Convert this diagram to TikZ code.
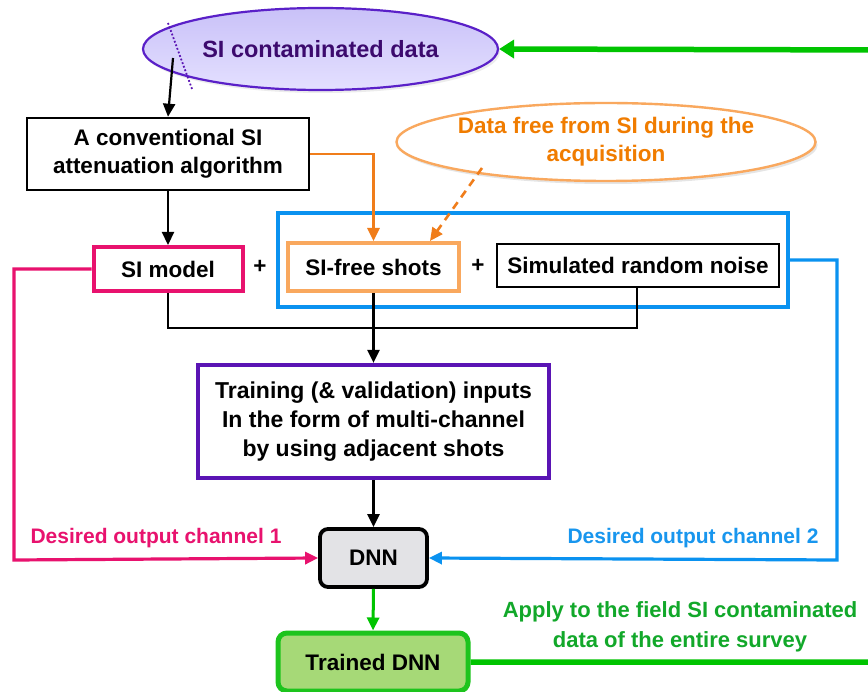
\documentclass[tikz,border=0pt]{standalone}
\usepackage{fontspec}
\setmainfont{Liberation Sans}
\usetikzlibrary{arrows.meta,shapes.geometric,shadows,calc}
\definecolor{pinkc}{HTML}{E8126E}
\definecolor{orangeline}{HTML}{F07D1A}
\definecolor{orangebox}{HTML}{F9A85E}
\definecolor{orangetext}{HTML}{F07C00}
\definecolor{bluec}{HTML}{0A92F0}
\definecolor{bluetext}{HTML}{1896EE}
\definecolor{greenline}{HTML}{00C400}
\definecolor{greentext}{HTML}{12A82A}
\definecolor{purplec}{HTML}{5A14B4}
\definecolor{ellborder}{HTML}{5A20C8}
\definecolor{elltext}{HTML}{3C0A6E}
\definecolor{ellfilltop}{HTML}{C9C1F8}
\definecolor{ellfillbot}{HTML}{E4E0FF}
\definecolor{trainedfill}{HTML}{A6D977}
\definecolor{trainedborder}{HTML}{1DC41D}
\definecolor{dnnfill}{HTML}{E3E3E6}
\begin{document}
\begin{tikzpicture}[x=1pt,y=-1pt,
  txt/.style={font=\fontsize{22.5}{28}\selectfont\bfseries, align=center},
  lbl/.style={font=\fontsize{21}{27}\selectfont\bfseries, align=center, inner sep=0pt},
  box/.style={draw, line width=2.6pt, inner sep=0pt, txt, rectangle},
  tip/.style={-{Triangle[length=13pt,width=12pt]}}]
\clip (0,0) rectangle (868,692);
\fill[white] (0,0) rectangle (868,692);

% top ellipse
\node[ellipse, draw=ellborder, line width=2.2pt, top color=ellfilltop, bottom color=ellfillbot,
      minimum width=355pt, minimum height=82pt, inner sep=0pt, txt, text=elltext,
      font=\fontsize{23.5}{28}\selectfont\bfseries,
      drop shadow={opacity=0.15, shadow xshift=2pt, shadow yshift=-3pt}]
      (ell1) at (320.5,49) {SI contaminated data};
\coordinate (d1) at (168,23);
\coordinate (d2) at (192,89);
\draw[purplec, line width=1.8pt, dotted] (d1) -- (d2);
\coordinate (e1) at (173,58);

% conventional box
\node[box, minimum width=282pt, minimum height=72pt] (conv) at (168,154)
  {A conventional SI\\attenuation algorithm};

% data free ellipse
\node[ellipse, draw=orangebox, line width=2.4pt, fill=white, minimum width=355pt, minimum height=78pt,
      inner sep=0pt, txt, text=orangetext,
      drop shadow={opacity=0.2, shadow xshift=2pt, shadow yshift=-3pt}]
      (dfree) at (606,142) {Data free from SI during the\\acquisition};
\coordinate (df1) at (482,168);

% blue enclosing box
\node[draw=bluec, line width=4.2pt, minimum width=510pt, minimum height=94pt, inner sep=0pt]
  (blue) at (533,260) {};

% row boxes
\node[box, draw=pinkc, line width=4pt, minimum width=149pt, minimum height=44pt] (sim) at (168,269) {SI model};
\node[box, draw=orangebox, line width=4pt, minimum width=171pt, minimum height=48pt] (sifree) at (373.5,267) {SI-free shots};
\node[box, minimum width=282pt, minimum height=43pt] (noise) at (638,265.5) {Simulated random noise};
\node[txt, inner sep=0pt] (plus1) at (260,267) {+};
\node[txt, inner sep=0pt] (plus2) at (478,266) {+};

% training box
\node[box, draw=purplec, line width=4.2pt, minimum width=351pt, minimum height=113pt,
      font=\fontsize{23}{29}\selectfont\bfseries]
  (train) at (373.5,421.5) {Training (\& validation) inputs\\In the form of multi-channel\\by using adjacent shots};

% DNN
\node[box, rounded corners=8pt, line width=3.8pt, fill=dnnfill, minimum width=107pt, minimum height=58pt] (dnn) at (373.5,558) {DNN};

% Trained DNN
\node[box, rounded corners=9pt, draw=trainedborder, line width=5pt, fill=trainedfill,
      minimum width=190pt, minimum height=58pt] (trained) at (373,662) {Trained DNN};

% labels
\node[lbl, text=pinkc] (ch1) at (156,538) {Desired output channel 1};
\node[lbl, text=bluetext] (ch2) at (693,538) {Desired output channel 2};
\node[txt, text=greentext, inner sep=0pt, font=\fontsize{22}{30}\selectfont\bfseries] (apply) at (680,627)
  {Apply to the field SI contaminated\\data of the entire survey};

% connectors
\draw[tip, line width=2.2pt] (e1) -- (conv.north);
\draw[tip, line width=2.2pt] (conv.south) -- (sim.north);
\coordinate (o1) at (373.5,154);
\draw[tip, draw=orangeline, line width=2.6pt] (conv.east) -- (o1) -- (sifree.north);
\draw[tip, draw=orangeline, line width=2.6pt, dash pattern=on 8pt off 6pt] (df1) -- ($(sifree.north east)+(-31,0)$);
\coordinate (m1) at (168,328);
\coordinate (m2) at (637,328);
\draw[line width=2.2pt] (sim.south) -- (m1) -- (m2) -- (noise.south -| m2);
\draw[tip, line width=2.3pt] (sifree.south) -- (train.north);
\draw[tip, line width=2.3pt] (train.south) -- (dnn.north);
\coordinate (p1) at (14,270);
\coordinate (p2) at (14,560);
\draw[tip, draw=pinkc, line width=3.2pt] (sim.west) -- (sim.west -| p1) -- (p2) -- (dnn.west);
\coordinate (b1) at (837,262);
\coordinate (b2) at (837,560);
\draw[tip, draw=bluec, line width=3.2pt] (blue.east) -- (blue.east -| b1) -- (b2) -- (dnn.east);
\draw[tip, draw=greenline, line width=3pt] (dnn.south) -- (trained.north);
\coordinate (g1) at (885,664);
\coordinate (g2) at (885,50);
\draw[draw=greenline, line width=5.5pt, -{Triangle[length=15pt,width=18pt]}]
  (trained.east) -- (trained.east -| g1) -- (g2) -- (ell1.east);
\end{tikzpicture}
\end{document}
